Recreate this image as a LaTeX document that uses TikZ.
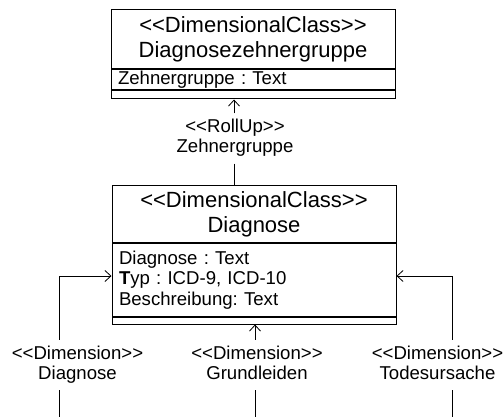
\documentclass[tikz,border=0pt]{standalone}
\usepackage{fontspec}
\setmainfont{Liberation Sans}
\usetikzlibrary{arrows.meta}
\newcommand\stereo[1]{<\kern0pt<#1>\kern0pt>}
\frenchspacing

\begin{document}
\begin{tikzpicture}[x=1pt, y=-1pt,
  box/.style={draw, line width=1pt, minimum width=284pt, inner sep=0pt},
  head/.style={box, align=center, font=\fontsize{22}{25}\selectfont},
  attrs/.style={box, anchor=north, align=left, text width=270pt, inner xsep=7pt, font=\fontsize{18.6}{20.5}\selectfont},
  ops/.style={box, anchor=north},
  lbl/.style={align=center, inner sep=0pt, inner ysep=5pt, font=\fontsize{18.6}{20}\selectfont},
  conn/.style={line width=0.8pt},
  dep/.style={conn, -{Straight Barb[length=6pt, width=11pt]}}]
\useasboundingbox (0,0) rectangle (504,417);

% Diagnosezehnergruppe
\node[head, minimum height=59pt] (zgHead) at (253,39.5) {\stereo{DimensionalClass}\\Diagnosezehnergruppe};
\node[attrs, minimum height=20pt] (zgAttr) at (zgHead.south) {Zehnergruppe : Text};
\node[ops, minimum height=8pt] (zgOps) at (zgAttr.south) {};

% Diagnose
\node[head, minimum height=57pt] (dgHead) at (254,214.5) {\stereo{DimensionalClass}\\Diagnose};
\node[attrs, minimum height=72pt] (dgAttr) at (dgHead.south) {Diagnose : Text\\\textbf{T}yp : ICD-9, ICD-10\\Beschreibung: Text};
\node[ops, minimum height=7pt] (dgOps) at (dgAttr.south) {};

% labels
\node[lbl] (rollUp) at (235,138.5) {\strut\stereo{RollUp}\\Zehnergruppe\strut};
\node[lbl] (dimDiag) at (77.5,365) {\strut\stereo{Dimension}\\Diagnose\strut};
\node[lbl] (dimGrund) at (257,365) {\strut\stereo{Dimension}\\Grundleiden\strut};
\node[lbl] (dimTod) at (437.5,365) {\strut\stereo{Dimension}\\Todesursache\strut};

\coordinate (typRow) at (0,276);
\coordinate (xRoll) at (234,0);
\coordinate (diagEnd) at (59,417);
\coordinate (grundEnd) at (255,417);
\coordinate (todEnd) at (452,417);

\draw[dep] (rollUp.north -| xRoll) -- (zgOps.south -| xRoll);
\draw[conn] (rollUp.south -| xRoll) -- (dgHead.north -| xRoll);

\draw[dep] (dimDiag.north -| diagEnd) |- (dgAttr.west |- typRow);
\draw[conn] (dimDiag.south -| diagEnd) -- (diagEnd);
\draw[dep] (dimGrund.north -| grundEnd) -- (dgOps.south -| grundEnd);
\draw[conn] (dimGrund.south -| grundEnd) -- (grundEnd);
\draw[dep] (dimTod.north -| todEnd) |- (dgAttr.east |- typRow);
\draw[conn] (dimTod.south -| todEnd) -- (todEnd);
\end{tikzpicture}
\end{document}
